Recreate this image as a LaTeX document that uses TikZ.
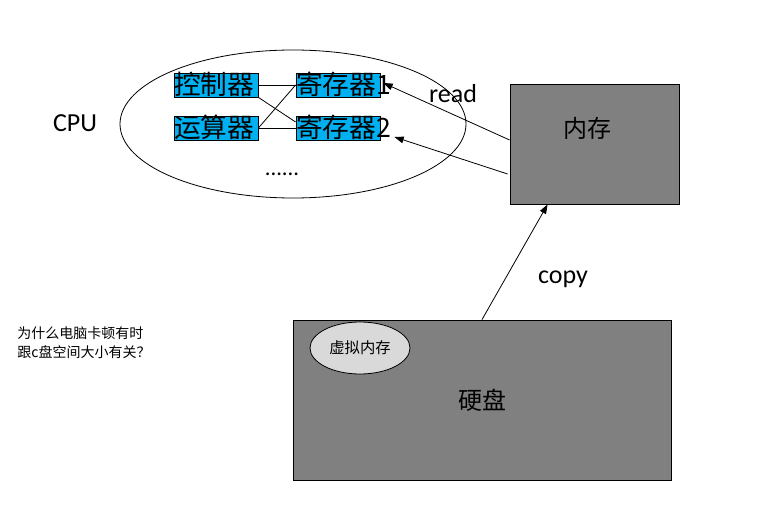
\documentclass[tikz,border=0pt]{standalone}
\usepackage{fontspec}
\setmainfont{Carlito}
\newfontfamily\cjk{Noto Sans CJK SC}
\usetikzlibrary{shapes.geometric,arrows.meta}
\definecolor{unitblue}{HTML}{00B0F0}
\definecolor{storegray}{HTML}{808080}
\definecolor{vmgray}{HTML}{D9D9D9}

\begin{document}
\begin{tikzpicture}[x=0.75pt, y=-0.75pt, line width=0.6pt,
    unitbox/.style={draw, fill=unitblue, inner sep=0pt, text width=63pt, align=left,
        text height=16.5pt, text depth=1.5pt, font=\cjk\fontsize{20}{20}\selectfont},
    store/.style={draw, fill=storegray, inner sep=0pt},
    bigtext/.style={font=\fontsize{19.5}{20}\selectfont},
    arr/.style={-{Triangle[length=7pt,width=5pt]}}]
    \useasboundingbox (0,0) rectangle (779,524);
    % CPU
    \node[draw, ellipse, minimum width=259.5pt, minimum height=111pt] (cpu) at (293,124) {};
    \node[bigtext] (cpulabel) at (75,123) {CPU};
    \node[unitbox] (ctrl) at (216,85) {控制器};
    \node[unitbox] (alu) at (216,128) {运算器};
    \node[unitbox] (reg1) at (338,85) {寄存器1};
    \node[unitbox] (reg2) at (338,128) {寄存器2};
    \node[font=\fontsize{17}{17}\selectfont] (more) at (282,174) {......};
    \draw (ctrl.east) -- (reg1.west);
    \draw (ctrl.south east) -- ([yshift=4.5pt]reg2.west);
    \draw (alu.east) -- (reg1.west);
    \draw (alu.east) -- (reg2.west);
    % memory
    \node[store, minimum width=126.75pt, minimum height=90pt] (mem) at (594.5,144) {};
    \node[font=\cjk\fontsize{18}{18}\selectfont] (memlabel) at (587,128) {内存};
    \draw[arr] ([yshift=3pt]mem.west) -- ([xshift=2.25pt,yshift=1.5pt]reg1.east);
    \draw[arr] ([xshift=-1.5pt,yshift=-22.5pt]mem.west) -- ([xshift=10.5pt,yshift=-6.75pt]reg2.east);
    \node[bigtext] (readlabel) at (453,94) {read};
    % disk
    \node[store, minimum width=283.5pt, minimum height=120pt,
        font=\cjk\fontsize{18}{18}\selectfont] (disk) at (482,400) {硬盘};
    \node[draw, ellipse, fill=vmgray, inner sep=0pt, minimum width=75pt, minimum height=39pt,
        font=\cjk\fontsize{11.5}{12}\selectfont] (vmem) at (360,348) {虚拟内存};
    \draw[arr] (disk.north) -- ([xshift=28.5pt]mem.south west);
    \node[bigtext] (copylabel) at (563,279) {copy};
    % question
    \node[anchor=west, align=left, inner sep=0pt, font=\cjk\fontsize{10.5}{14.25}\selectfont]
        (question) at (17,343) {为什么电脑卡顿有时\\跟c盘空间大小有关？};
\end{tikzpicture}
\end{document}
